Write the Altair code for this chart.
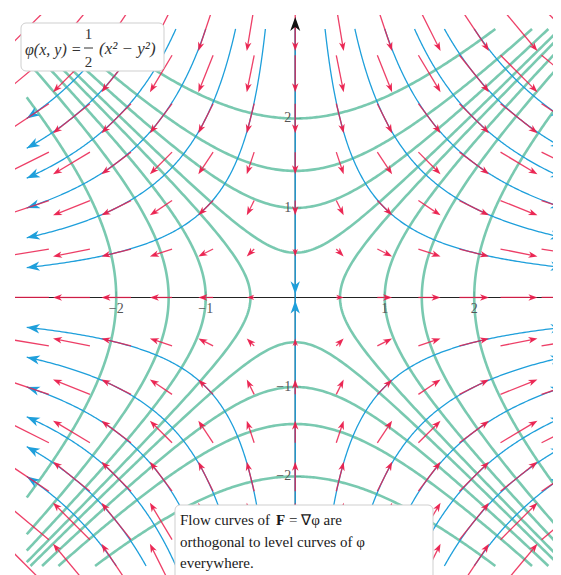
import numpy as np
import pandas as pd
import altair as alt

# ---------------- data / parameters ----------------
GRID = [-3.0, -2.5, -2.0, -1.5, -1.0, -0.5, 0.0, 0.5, 1.0, 1.5, 2.0, 2.5, 3.0]
LEVELS = [-4, -2, -1, -0.25, 0.25, 1, 2, 4]      # values of x^2 - y^2 (level curves of phi)
FLOWS = [1, 2, 3, 4, 5, 6]                       # values of x*y (flow curves)
BOX = 3.0                                        # curves drawn inside [-3, 3]^2
ARROW_K = 0.165                                  # red arrow length per unit |F|
TICKS = [-2, -1, 1, 2]
TICK_LABELS = ["\u22122", "\u22121", "1", "2"]
PX = 89.5                                        # pixels per unit
W = 538
H = 560
X_DOMAIN = [-3.131, -3.131 + W / PX]
Y_DOMAIN = [3.156 - H / PX, 3.156]

RED = "#EA1D4C"
BLUE = "#1E9FDB"
GREEN = "#66C2A5"
HEAD = "M0,0L-1,-0.36L-0.72,0L-1,0.36Z"
FONT = "Liberation Serif"

xs = alt.Scale(domain=X_DOMAIN, nice=False, zero=False)
ys = alt.Scale(domain=Y_DOMAIN, nice=False, zero=False)


def ang(sx, sy):
    # screen angle (clockwise degrees) of a math-direction vector (sx, sy)
    return float(np.degrees(np.arctan2(-sy, sx)) % 360)


# level curves x^2 - y^2 = c
lv = []
for c in LEVELS:
    for s in (1, -1):
        if c > 0:
            ym = np.sqrt(BOX ** 2 - c)
            y = np.linspace(-ym, ym, 241)
            x = s * np.sqrt(c + y ** 2)
        else:
            xm = np.sqrt(BOX ** 2 + c)
            x = np.linspace(-xm, xm, 241)
            y = s * np.sqrt(x ** 2 - c)
        for i, (a, b) in enumerate(zip(x, y)):
            lv.append(dict(cid=f"{c}_{s}", i=i, x=float(a), y=float(b)))
lv = pd.DataFrame(lv)

# flow curves x*y = c
fl, fh = [], []
for c in FLOWS:
    for sx in (1, -1):
        for sy in (1, -1):
            t = np.geomspace(c / BOX, BOX, 220)
            x = sx * t
            y = sy * c / t
            cid = f"{c}_{sx}_{sy}"
            for i, (a, b) in enumerate(zip(x, y)):
                fl.append(dict(cid=cid, i=i, x=float(a), y=float(b)))
            ex, ey = float(x[-1]), float(y[-1])
            fh.append(dict(x=ex, y=ey, angle=ang(ex, -ey)))
# the straight flow line x = 0
for i, yy in enumerate([BOX, -BOX]):
    fl.append(dict(cid="axis", i=i, x=0.0, y=yy))
fh.append(dict(x=0.0, y=0.035, angle=ang(0, -1)))
fh.append(dict(x=0.0, y=-0.035, angle=ang(0, 1)))
fl = pd.DataFrame(fl)
fh = pd.DataFrame(fh)

# red vector field F = grad phi = (x, -y)
ra = []
for gx in GRID:
    for gy in GRID:
        fx, fy = gx, -gy
        mag = np.hypot(fx, fy)
        if mag == 0:
            continue
        ux, uy = fx / mag, fy / mag
        L = mag * ARROW_K
        tx, ty = gx + fx * ARROW_K / 2, gy + fy * ARROW_K / 2
        hpx = min(9.0, L * PX)
        h = hpx / PX
        ra.append(dict(
            x=gx - fx * ARROW_K / 2, y=gy - fy * ARROW_K / 2,
            x2=tx - ux * 0.6 * h, y2=ty - uy * 0.6 * h,
            tx=tx, ty=ty, angle=ang(fx, fy), size=(2 * hpx) ** 2,
        ))
ra = pd.DataFrame(ra)

axes = pd.DataFrame([
    dict(x=X_DOMAIN[0], x2=X_DOMAIN[1], y=0.0, y2=0.0),
    dict(x=0.0, x2=0.0, y=Y_DOMAIN[0], y2=3.05),
])
ticks_x = pd.DataFrame(dict(x=TICKS, y=[0.0] * 4, y2=[6 / PX] * 4, label=TICK_LABELS))
ticks_y = pd.DataFrame(dict(y=TICKS, x=[0.0] * 4, x2=[6 / PX] * 4, label=TICK_LABELS))
top_arrow = pd.DataFrame([dict(x=0.0, y=3.134, angle=270.0)])

# ---------------- layers ----------------
axis_lines = alt.Chart(axes).mark_rule(color="#222", strokeWidth=1.1, clip=True).encode(
    x=alt.X("x:Q", scale=xs, axis=None), x2="x2:Q",
    y=alt.Y("y:Q", scale=ys, axis=None), y2="y2:Q")
tx_marks = alt.Chart(ticks_x).mark_rule(color="#222", strokeWidth=1).encode(
    x=alt.X("x:Q", scale=xs, axis=None),
    y=alt.Y("y:Q", scale=ys, axis=None), y2="y2:Q")
ty_marks = alt.Chart(ticks_y).mark_rule(color="#222", strokeWidth=1).encode(
    x=alt.X("x:Q", scale=xs, axis=None), x2="x2:Q",
    y=alt.Y("y:Q", scale=ys, axis=None))

green = alt.Chart(lv).mark_line(color=GREEN, strokeWidth=2.6, opacity=0.88, clip=True).encode(
    x=alt.X("x:Q", scale=xs, axis=None), y=alt.Y("y:Q", scale=ys, axis=None),
    detail="cid:N", order="i:Q")
blue = alt.Chart(fl).mark_line(color=BLUE, strokeWidth=1.3, clip=True).encode(
    x=alt.X("x:Q", scale=xs, axis=None), y=alt.Y("y:Q", scale=ys, axis=None),
    detail="cid:N", order="i:Q")
blue_heads = alt.Chart(fh).mark_point(shape=HEAD, filled=True, color=BLUE, opacity=1,
                                      size=4 * 13 ** 2, strokeWidth=0, clip=True).encode(
    x=alt.X("x:Q", scale=xs, axis=None), y=alt.Y("y:Q", scale=ys, axis=None),
    angle=alt.Angle("angle:Q", scale=None))
red_shafts = alt.Chart(ra).mark_rule(color=RED, strokeWidth=1.3, opacity=0.85, clip=True).encode(
    x=alt.X("x:Q", scale=xs, axis=None), x2="x2:Q",
    y=alt.Y("y:Q", scale=ys, axis=None), y2="y2:Q")
red_heads = alt.Chart(ra).mark_point(shape=HEAD, filled=True, color=RED, opacity=0.95,
                                     strokeWidth=0, clip=True).encode(
    x=alt.X("tx:Q", scale=xs, axis=None), y=alt.Y("ty:Q", scale=ys, axis=None),
    angle=alt.Angle("angle:Q", scale=None), size=alt.Size("size:Q", scale=None))
black_head = alt.Chart(top_arrow).mark_point(shape=HEAD, filled=True, color="#111", opacity=1,
                                             size=4 * 14 ** 2, strokeWidth=0).encode(
    x=alt.X("x:Q", scale=xs, axis=None), y=alt.Y("y:Q", scale=ys, axis=None),
    angle=alt.Angle("angle:Q", scale=None))

xl = alt.Chart(ticks_x).mark_text(font=FONT, fontSize=14, color="#555", align="center",
                                  baseline="middle", dy=12).encode(
    x=alt.X("x:Q", scale=xs, axis=None), y=alt.Y("y:Q", scale=ys, axis=None), text="label:N")
yl = alt.Chart(ticks_y).mark_text(font=FONT, fontSize=14, color="#555", align="right",
                                  baseline="middle", dx=-4).encode(
    x=alt.X("x:Q", scale=xs, axis=None), y=alt.Y("y:Q", scale=ys, axis=None), text="label:N")

# ---------------- annotation boxes (view pixel coords) ----------------
OFF = 15  # page px of view origin
ONE = pd.DataFrame({"k": [0]})


def box(x0, y0, x1, y1):
    return alt.Chart(ONE).mark_rect(
        fill="white", stroke="#cfcfcf", strokeWidth=1, cornerRadius=5).encode(
        x=alt.value(x0 - OFF), x2=alt.value(x1 - OFF),
        y=alt.value(y0 - OFF), y2=alt.value(y1 - OFF))


def txt(s, x, y, size=15, style="normal", weight="normal", align="left", color="#1a1a1a"):
    return alt.Chart(ONE).mark_text(
        text=s, font=FONT, fontSize=size, fontStyle=style, fontWeight=weight,
        align=align, baseline="middle", color=color).encode(
        x=alt.value(x - OFF), y=alt.value(y - OFF))


frac_bar = alt.Chart(ONE).mark_rule(color="#333", strokeWidth=1).encode(
    x=alt.value(84 - OFF), x2=alt.value(93 - OFF), y=alt.value(48 - OFF))

ann = [
    box(21, 23, 164, 71),
    txt("\u03c6(x, y) =", 25, 50, size=16, style="italic", color="#333"),
    txt("1", 88.5, 34, size=15, align="center", color="#333"),
    frac_bar,
    txt("2", 88.5, 62, size=15, align="center", color="#333"),
    txt("(x\u00b2 \u2212 y\u00b2)", 99, 49, size=17, style="italic", color="#333"),
    box(175, 505, 433, 590),
    txt("Flow curves of", 180, 520),
    txt("F", 276, 520, weight="bold"),
    txt("= \u2207\u03c6 are", 289, 520),
    txt("orthogonal to level curves of \u03c6", 180, 542),
    txt("everywhere.", 180, 563),
]

chart = alt.layer(
    axis_lines, tx_marks, ty_marks, green, blue, blue_heads, red_shafts, red_heads,
    black_head, xl, yl, *ann
).properties(
    width=W, height=H,
    padding={"left": 7, "top": 7, "right": 0, "bottom": 0},
    autosize="none",
).configure_view(stroke=None)

chart.save("out.html", embed_options={"renderer": "svg", "actions": False})
